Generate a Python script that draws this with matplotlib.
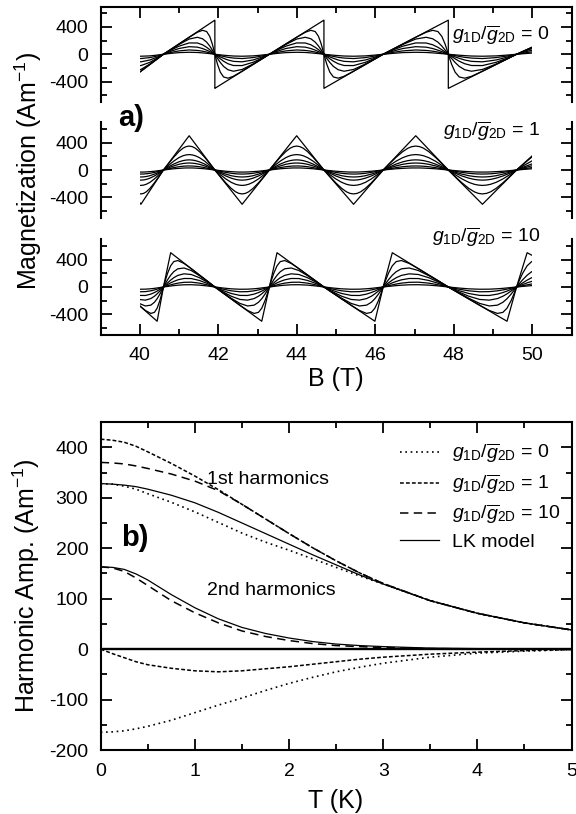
import numpy as np
import matplotlib
matplotlib.use('Agg')
import matplotlib.pyplot as plt
from matplotlib.patches import Rectangle
from matplotlib.ticker import MultipleLocator

plt.rcParams['font.family'] = ['Liberation Sans', 'DejaVu Sans']
plt.rcParams['mathtext.fontset'] = 'custom'
plt.rcParams['mathtext.rm'] = 'Liberation Sans'
plt.rcParams['mathtext.it'] = 'Liberation Sans:italic'
plt.rcParams['mathtext.bf'] = 'Liberation Sans:bold'
plt.rcParams['axes.unicode_minus'] = False
plt.rcParams['axes.linewidth'] = 1.5

# ---------------- panel a: magnetization vs B ----------------
# oscillation nodes (T): sawtooth jump / upward zero crossing, alternating
b_nodes = [39.45, 40.6, 41.91, 43.3, 44.69, 46.2, 47.86, 49.6, 51.52]
ratios = ['0', '1', '10']

# half period templates (fraction of the half period), 7 temperatures, A/m
# g1D/g2D = 0 : jump -> zero crossing
u_saw = [0, 0.02, 0.05, 0.1, 0.16, 0.24, 0.34, 0.5, 0.7, 0.84, 1]
m_saw = [[-500, -490, -475, -450, -420, -380, -330, -250, -150, -80, 0],
         [0, -63, -151, -263, -333, -351, -323, -249, -150, -80, 0],
         [0, -26, -63, -121, -178, -227, -249, -223, -143, -77, 0],
         [0, -14, -34, -67, -102, -139, -165, -166, -118, -66, 0],
         [0, -8, -20, -39, -60, -84, -104, -111, -84, -48, 0],
         [0, -4, -10, -20, -32, -45, -56, -63, -49, -29, 0],
         [0, -2, -5, -9, -14, -20, -26, -29, -24, -14, 0]]

# g1D/g2D = 1 : first half of the negative lobe (the lobe is symmetric)
u_tri = [0, 0.1, 0.2, 0.3, 0.38, 0.44, 0.5]
m_tri = [[0, -100, -200, -300, -380, -440, -500],
         [0, -95, -187, -268, -318, -341, -349],
         [0, -68, -130, -180, -208, -220, -225],
         [0, -46, -87, -119, -137, -145, -148],
         [0, -32, -60, -83, -95, -100, -102],
         [0, -18, -35, -48, -55, -58, -59],
         [0, -9, -18, -24, -28, -30, -30]]

# g1D/g2D = 10 : zero crossing -> jump position
u_ramp = [0, 0.04, 0.08, 0.14, 0.2, 0.28, 0.4, 0.54, 0.7, 0.84, 1]
m_ramp = [[0, 143, 286, 500, 465, 419, 349, 267, 174, 93, 0],
          [0, 104, 199, 309, 370, 386, 343, 268, 175, 94, 0],
          [0, 53, 104, 171, 223, 265, 277, 240, 165, 90, 0],
          [0, 30, 59, 100, 135, 169, 192, 182, 135, 76, 0],
          [0, 18, 35, 60, 81, 104, 124, 123, 95, 55, 0],
          [0, 9, 18, 31, 43, 56, 68, 70, 56, 33, 0],
          [0, 4, 8, 14, 20, 26, 32, 33, 27, 16, 0]]

# ---------------- panel b: harmonic amplitudes vs T ----------------
temp = [0, 0.125, 0.25, 0.375, 0.5, 0.75, 1, 1.25, 1.5, 1.75, 2, 2.25, 2.5, 2.75,
        3, 3.5, 4, 4.5, 5]
first_g0 = [328, 327, 323, 317, 308, 291, 272, 251, 230, 212, 196, 179, 162, 145,
            129, 96, 71, 52, 38]
first_g1 = [416, 414, 410, 402, 391, 368, 343, 316, 287, 258, 229, 201, 175, 151,
            130, 96, 71, 52, 38]
first_g10 = [370, 369, 367, 363, 358, 347, 333, 314, 287, 258, 229, 201, 175, 151,
             130, 96, 71, 52, 38]
first_lk = [328, 327, 325, 322, 317, 305, 290, 271, 250, 229, 208, 187, 167, 147,
            129, 96, 71, 52, 38]
second_g0 = [-165, -164, -162, -158, -153, -141, -126, -111, -97, -82, -68, -56, -45,
             -36, -28, -16, -8, -4, -1]
second_g1 = [0, -9, -17, -25, -31, -38, -43, -45, -43, -39, -35, -30, -25, -20,
             -16, -10, -6, -3, -1]
second_g10 = [163, 161, 154, 141, 126, 96, 72, 52, 36, 25, 17, 11, 7, 5,
              3, 1, 0.5, 0, 0]
second_lk = [163, 162, 158, 149, 137, 108, 82, 60, 43, 31, 22, 15, 10, 7,
             5, 2, 1, 0.5, 0]


def periodic(u, half, flip):
    # lay the half-period template between successive nodes, mirrored every other half
    u = np.asarray(u, float)
    half = np.asarray(half, float)
    xs, ys = [], []
    for i in range(len(b_nodes) - 1):
        a, b = b_nodes[i], b_nodes[i + 1]
        if (i + flip) % 2 == 0:
            xs.append(a + u * (b - a))
            ys.append(half)
        else:
            xs.append((b - u * (b - a))[::-1])
            ys.append(-half[::-1])
    return np.concatenate(xs), np.concatenate(ys)


def tick_style(ax):
    ax.tick_params(which='both', direction='in', labelsize=14, width=1.3)
    ax.tick_params(which='major', length=8, pad=9)
    ax.tick_params(which='minor', length=4.5)


fig = plt.figure(figsize=(5.76, 8.14), dpi=100)
left, width = 0.1748, 0.8174
blocks = [(0.8747, 0.1173), (0.7322, 0.1179), (0.5885, 0.1179)]
curves = [(u_saw, m_saw, 0), (u_tri, None, 0), (u_ramp, m_ramp, 1)]
label_pos = [(50.45, 285), (50.2, 560), (50.2, 720)]

for k, (bot, h) in enumerate(blocks):
    ax = fig.add_axes([left, bot, width, h])
    u, tmpl, flip = curves[k]
    if tmpl is None:
        # symmetric lobe: mirror the first half
        u = np.r_[u_tri, 1 - np.array(u_tri[-2::-1])]
        tmpl = [np.r_[m, m[-2::-1]] for m in m_tri]
    clip = Rectangle((40, -2000), 10, 4000, transform=ax.transData)
    for m in tmpl:
        bx, by = periodic(u, m, flip)
        ln, = ax.plot(bx, by, color='black', lw=0.9)
        ln.set_clip_path(clip)
    ax.set_xlim(39, 51)
    ax.set_ylim(-700, 700)
    ax.set_yticks([-400, 0, 400])
    ax.yaxis.set_minor_locator(MultipleLocator(200))
    ax.xaxis.set_major_locator(MultipleLocator(2))
    ax.xaxis.set_minor_locator(MultipleLocator(1))
    tick_style(ax)
    ax.tick_params(which='both', right=True, top=(k == 0), bottom=(k == 2),
                   labelbottom=(k == 2))
    if k > 0:
        ax.spines['top'].set_visible(False)
    if k < 2:
        ax.spines['bottom'].set_visible(False)
    ax.text(label_pos[k][0], label_pos[k][1],
            r'$g_{1\mathrm{D}}/\overline{g}_{2\mathrm{D}}$ = ' + ratios[k],
            ha='right', va='center', fontsize=14, clip_on=False)

fig.text(336 / 576, 1 - 379 / 814, 'B (T)', ha='center', va='center', fontsize=18)
fig.text(28 / 576, 1 - 171 / 814, 'Magnetization (Am$^{-1}$)', rotation=90,
         ha='center', va='center', fontsize=18)
fig.text(131 / 576, 1 - 118 / 814, 'a)', ha='center', va='center', fontsize=21,
         fontweight='bold')

# ---------------- panel b ----------------
axb = fig.add_axes([left, 0.0786, width, 0.4029])
dot = (0, (1, 2.2))
fine = (0, (2.5, 1.4))
dash = (0, (5.5, 3.5))
axb.axhline(0, color='black', lw=1.7)
axb.plot(temp, first_g0, color='black', lw=1.2, ls=dot,
         label=r'$g_{1\mathrm{D}}/\overline{g}_{2\mathrm{D}}$ = 0')
axb.plot(temp, first_g1, color='black', lw=1.1, ls=fine,
         label=r'$g_{1\mathrm{D}}/\overline{g}_{2\mathrm{D}}$ = 1')
axb.plot(temp, first_g10, color='black', lw=1.1, ls=dash,
         label=r'$g_{1\mathrm{D}}/\overline{g}_{2\mathrm{D}}$ = 10')
axb.plot(temp, first_lk, color='black', lw=0.9, label='LK model')
axb.plot(temp, second_g0, color='black', lw=1.2, ls=dot)
axb.plot(temp, second_g1, color='black', lw=1.1, ls=fine)
axb.plot(temp, second_g10, color='black', lw=1.1, ls=dash)
axb.plot(temp, second_lk, color='black', lw=0.9)

axb.set_xlim(0, 5)
axb.set_ylim(-200, 450)
axb.set_yticks(range(-200, 401, 100))
axb.xaxis.set_major_locator(MultipleLocator(1))
axb.xaxis.set_minor_locator(MultipleLocator(0.5))
axb.yaxis.set_minor_locator(MultipleLocator(50))
tick_style(axb)
axb.tick_params(which='both', top=True, right=True)

axb.text(1.78, 337, '1st harmonics', ha='center', va='center', fontsize=14)
axb.text(1.81, 116, '2nd harmonics', ha='center', va='center', fontsize=14)
axb.text(0.36, 220, 'b)', ha='center', va='center', fontsize=21, fontweight='bold')

axb.legend(loc='upper left', bbox_to_anchor=(0.636, 0.94), frameon=False,
           fontsize=14, handlelength=2.0, handletextpad=0.65, labelspacing=0.35,
           borderpad=0, borderaxespad=0)

fig.text(336 / 576, 1 - 801 / 814, 'T (K)', ha='center', va='center', fontsize=18)
fig.text(26 / 576, 1 - 586 / 814, 'Harmonic Amp. (Am$^{-1}$)', rotation=90,
         ha='center', va='center', fontsize=18)

fig.savefig('out.png', dpi=100)
